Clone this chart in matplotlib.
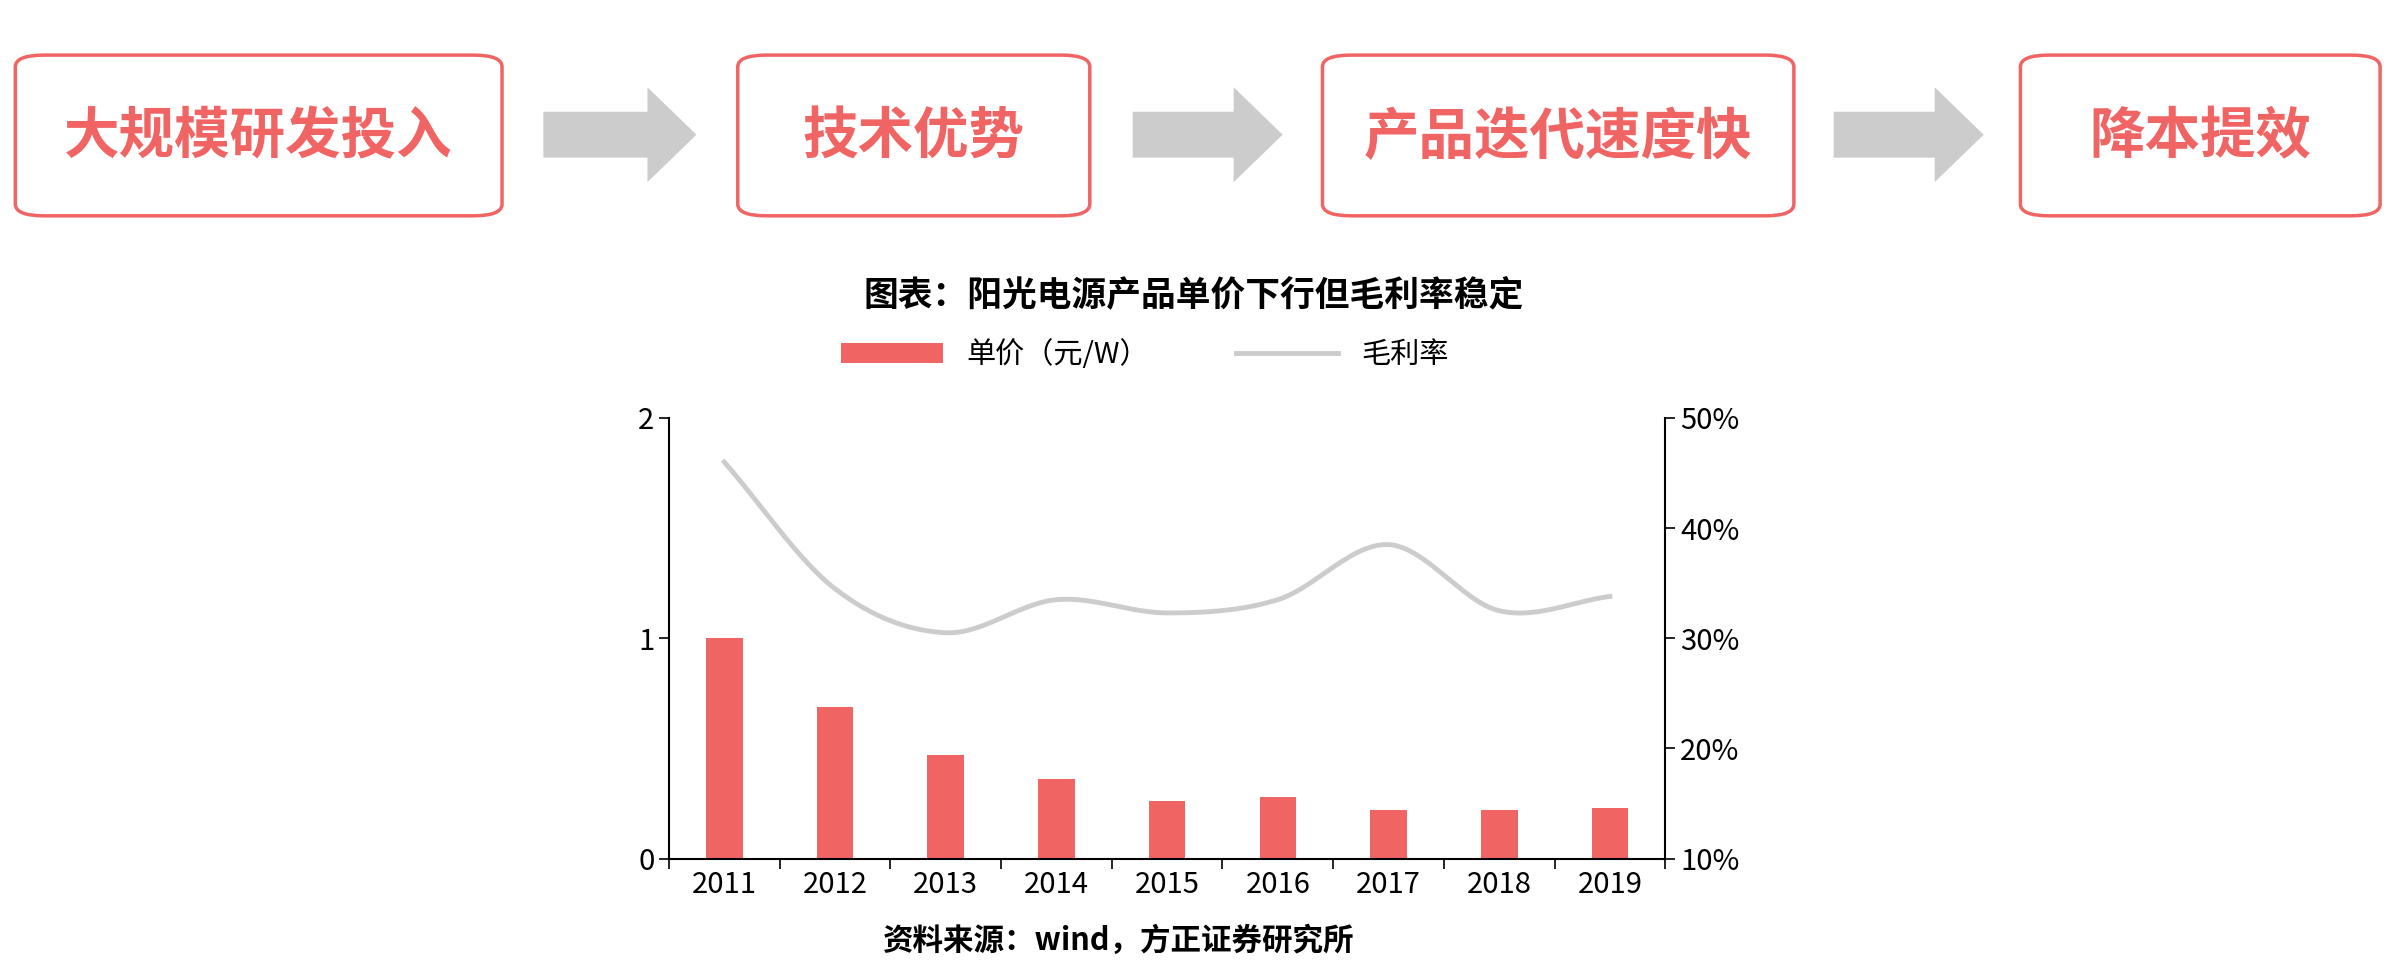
import matplotlib
matplotlib.use("Agg")
import matplotlib.pyplot as plt
from matplotlib.patches import FancyBboxPatch, FancyArrow
from matplotlib.ticker import FuncFormatter
import numpy as np

plt.rcParams['font.family'] = ['Noto Sans CJK SC', 'DejaVu Sans']

years = ["2011", "2012", "2013", "2014", "2015", "2016", "2017", "2018", "2019"]
price = [1.0, 0.69, 0.47, 0.36, 0.26, 0.28, 0.22, 0.22, 0.23]
margin = [46.0, 34.5, 30.5, 33.5, 32.3, 33.5, 38.5, 32.5, 33.8]
steps = ["大规模研发投入", "技术优势", "产品迭代速度快", "降本提效"]

RED = "#f06464"
GRAY = "#cccccc"

fig = plt.figure(figsize=(24, 9.75), dpi=100)
W, H = 1568, 637  # layout measured in reference units

def fx(x): return x / W
def fy(y): return 1 - y / H

# flow boxes
boxes = [(10, 328), (482, 712), (864, 1172), (1320, 1555)]
for (x0, x1), label in zip(boxes, steps):
    p = FancyBboxPatch((fx(x0), fy(141)), fx(x1 - x0), 105 / H,
                       boxstyle="round,pad=0,rounding_size=0.012",
                       transform=fig.transFigure, fc="white", ec=RED, lw=2.5,
                       mutation_aspect=W / H * 975 / 2400)
    fig.add_artist(p)
    fig.text(fx((x0 + x1) / 2), fy(90), label, color=RED, fontsize=40,
             fontweight="bold", ha="center", va="center")

for x0, x1 in [(355, 455), (740, 838), (1198, 1296)]:
    a = FancyArrow(fx(x0), fy(88), fx(x1 - x0 - 32), 0, width=30 / H,
                   head_width=62 / H, head_length=fx(32), length_includes_head=False,
                   transform=fig.transFigure, fc=GRAY, ec="none")
    fig.add_artist(a)

fig.text(fx(780), fy(193), "图表：阳光电源产品单价下行但毛利率稳定", fontsize=25,
         fontweight="bold", ha="center", va="center")
fig.text(fx(731), fy(615), "资料来源：wind，方正证券研究所", fontsize=22,
         fontweight="bold", ha="center", va="center")

ax = fig.add_axes([fx(437), fy(561), fx(1088 - 437), (561 - 273) / H])
x = np.arange(len(years))
ax.bar(x, price, width=0.33, color=RED, label="单价（元/W）")
ax.set_xlim(-0.5, len(years) - 0.5)
ax.set_ylim(0, 2)
ax.set_yticks([0, 1, 2])
ax.set_xticks(x)
ax.set_xticklabels(years)
ax.set_xticks(np.arange(-0.5, len(years)), minor=True)
ax.tick_params(axis="x", which="major", length=0, labelsize=21, pad=8)
ax.tick_params(axis="x", which="minor", length=7, width=1.2)
ax.tick_params(axis="y", labelsize=21, length=7, width=1.2)
ax.spines["top"].set_visible(False)
ax.spines["right"].set_visible(False)
for s in ["left", "bottom"]:
    ax.spines[s].set_linewidth(1.5)

ax2 = ax.twinx()
# smooth curve through the data points (Catmull-Rom)
pts = np.array(margin)
px = np.concatenate([[x[0] - 1], x, [x[-1] + 1]])
py = np.concatenate([[2 * pts[0] - pts[1]], pts, [2 * pts[-1] - pts[-2]]])
cx, cy = [], []
t = np.linspace(0, 1, 30)
for i in range(1, len(px) - 2):
    for arr, out in ((px, cx), (py, cy)):
        p0, p1, p2, p3 = arr[i - 1], arr[i], arr[i + 1], arr[i + 2]
        out.extend(0.5 * (2 * p1 + (-p0 + p2) * t + (2 * p0 - 5 * p1 + 4 * p2 - p3) * t ** 2
                          + (-p0 + 3 * p1 - 3 * p2 + p3) * t ** 3))
ax2.plot(cx, cy, color=GRAY, lw=3.5, label="毛利率")
ax2.set_ylim(10, 50)
ax2.set_yticks([10, 20, 30, 40, 50])
ax2.yaxis.set_major_formatter(FuncFormatter(lambda v, p: f"{v:.0f}%"))
ax2.tick_params(axis="y", labelsize=21, length=7, width=1.2)
for s in ["top", "left", "bottom"]:
    ax2.spines[s].set_visible(False)
ax2.spines["right"].set_linewidth(1.5)

h1, l1 = ax.get_legend_handles_labels()
h2, l2 = ax2.get_legend_handles_labels()
fig.legend(h1 + h2, l1 + l2, loc="center", bbox_to_anchor=(fx(748), fy(232)),
           ncol=2, frameon=False, fontsize=21, handlelength=3.5, columnspacing=3)

fig.savefig("out.png")
